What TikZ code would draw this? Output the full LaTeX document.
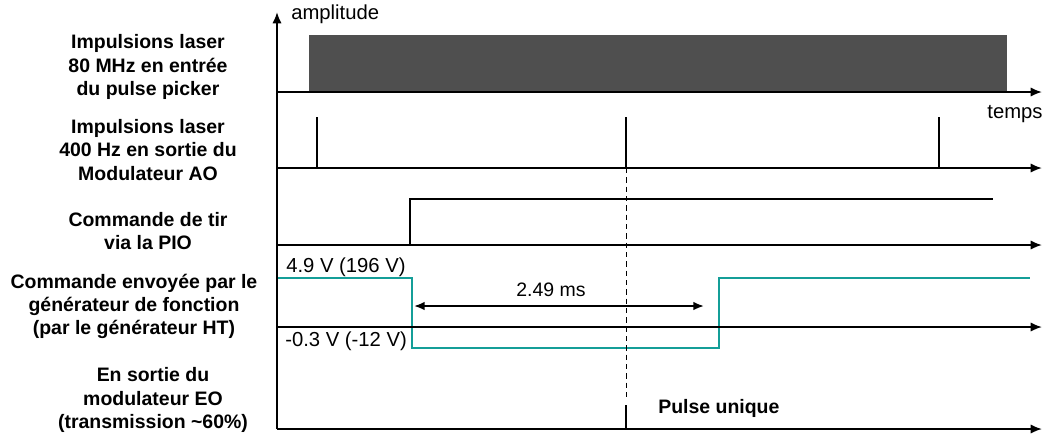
\documentclass[tikz,border=0pt]{standalone}
\usepackage{fontspec}
\setmainfont{Liberation Sans}
\usetikzlibrary{arrows.meta}
\definecolor{sarcelle}{RGB}{20,158,152}
\definecolor{grisimpulsion}{RGB}{79,79,79}
\newcommand{\taille}{\fontsize{14.6}{17.3}\selectfont}
\begin{document}
\begin{tikzpicture}[x=0.75pt,y=-0.75pt,font=\taille]
	% Styles (MODIFIABLES)
	\tikzstyle{axe}=[->,>={Latex[length=8.5pt,width=7pt]},line width=1.4pt]
	\tikzstyle{impulsion}=[line width=1.4pt]
	\tikzstyle{signal}=[sarcelle,line width=1.6pt]
	\tikzstyle{cote}=[<->,>={Latex[length=8pt,width=6.5pt]},line width=1.4pt]
	\tikzstyle{repere}=[dashed,dash pattern=on 4pt off 3pt,line width=0.6pt]
	\tikzstyle{titre}=[align=center,font=\taille\bfseries,inner sep=0pt]
	\tikzstyle{commentaire}=[inner sep=0pt,font=\fontsize{15.2}{18}\selectfont]
	% Dimensions (MODIFIABLES)
	\def\Origine{277}
	\def\Fin{1042}
	\def\AxeA{92}
	\def\AxeB{168}
	\def\AxeC{245}
	\def\AxeD{327}
	\def\AxeE{429}
	\def\Haut{278}
	\def\Bas{348}
	\useasboundingbox (0,0) rectangle (1048,437);
	% Noeuds
	\node[titre] (t1) at (148,67) {Impulsions laser\\80 MHz en entrée\\du pulse picker};
	\node[titre] (t2) at (148,150) {Impulsions laser\\400 Hz en sortie du\\Modulateur AO};
	\node[titre] (t3) at (148,231) {Commande de tir\\via la PIO};
	\node[titre] (t4) at (134,306) {Commande envoyée par le\\générateur de fonction\\(par le générateur HT)};
	\node[titre] (t5) at (153,400) {En sortie du\\modulateur EO\\(transmission \textasciitilde60\%)};
	\node[commentaire,anchor=west] (amplitude) at (291,14) {amplitude};
	\node[commentaire] (temps) at (1015,114) {temps};
	\node[commentaire,anchor=west] (vhaut) at (286,267) {4.9 V (196 V)};
	\node[commentaire,anchor=west] (vbas) at (285,341) {-0.3 V (-12 V)};
	\node[commentaire,font=\taille] (duree) at (551,290) {2.49 ms};
	\node[commentaire,anchor=west,font=\taille\bfseries] (unique) at (658,408) {Pulse unique};
	% Reperes
	\coordinate (O) at (\Origine,\AxeE);
	\coordinate (sommet) at (\Origine,12);
	\coordinate (a1) at (\Origine,\AxeA); \coordinate (a2) at (\Fin,\AxeA);
	\coordinate (b1) at (\Origine,\AxeB); \coordinate (b2) at (\Fin,\AxeB);
	\coordinate (c1) at (\Origine,\AxeC); \coordinate (c2) at (\Fin,\AxeC);
	\coordinate (d1) at (\Origine,\AxeD); \coordinate (d2) at (\Fin,\AxeD);
	\coordinate (e2) at (\Fin,\AxeE);
	% Train 80 MHz
	\fill[grisimpulsion] (309,35) rectangle (1007,\AxeA);
	% Impulsions 400 Hz
	\coordinate (p1) at (317,117); \coordinate (q1) at (317,\AxeB);
	\coordinate (p2) at (626,117); \coordinate (q2) at (626,\AxeB);
	\coordinate (p3) at (939,117); \coordinate (q3) at (939,\AxeB);
	\draw[impulsion] (q1) -- (p1);
	\draw[impulsion] (q2) -- (p2);
	\draw[impulsion] (q3) -- (p3);
	% Commande PIO
	\coordinate (tir) at (410,\AxeC);
	\coordinate (tirh) at (410,199);
	\coordinate (tirf) at (993,199);
	\draw[impulsion] (tir) -- (tirh) -- (tirf);
	% Signal HT
	\coordinate (s0) at (\Origine,\Haut);
	\coordinate (s1) at (412,\Haut);
	\coordinate (s2) at (412,\Bas);
	\coordinate (s3) at (719,\Bas);
	\coordinate (s4) at (719,\Haut);
	\coordinate (s5) at (1030,\Haut);
	\draw[signal] (s0) -- (s1) -- (s2) -- (s3) -- (s4) -- (s5);
	\coordinate (g) at (414,306);
	\coordinate (d) at (704,306);
	\draw[cote] (g) -- (d);
	% Pulse unique
	\coordinate (r) at (626,400);
	\coordinate (u1) at (626,405);
	\coordinate (u2) at (626,\AxeE);
	\draw[repere] (q2) -- (r);
	\draw[impulsion] (u2) -- (u1);
	% Axes
	\draw[axe] (O) -- (sommet);
	\draw[axe] (a1) -- (a2);
	\draw[axe] (b1) -- (b2);
	\draw[axe] (c1) -- (c2);
	\draw[axe] (d1) -- (d2);
	\draw[axe] (O) -- (e2);
\end{tikzpicture}
\end{document}
